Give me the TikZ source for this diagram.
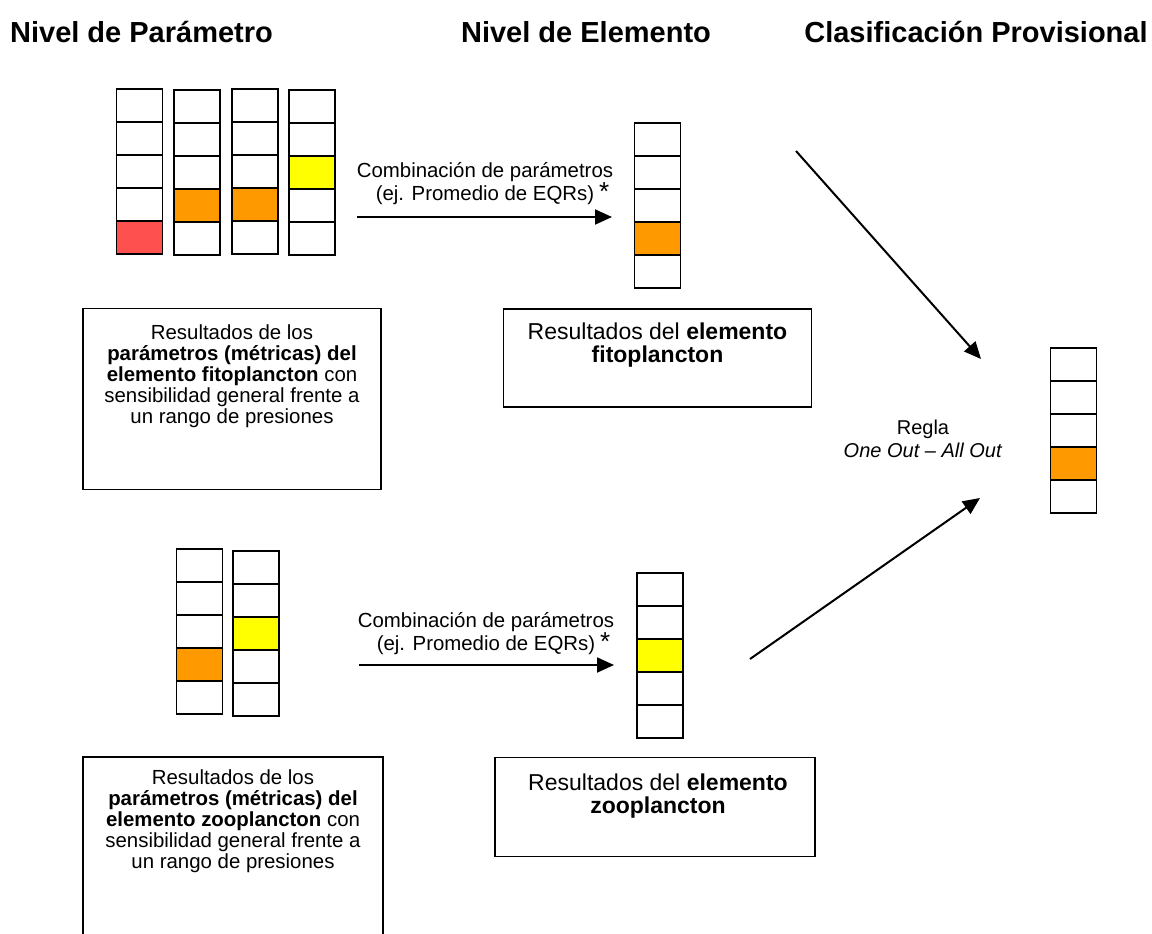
\documentclass[tikz,border=0pt]{standalone}
\usepackage{fontspec}
\setmainfont{Liberation Sans}
\usepackage{xcolor}
\usetikzlibrary{arrows.meta, positioning}

\definecolor{rojo}{HTML}{FF5050}
\definecolor{naranja}{HTML}{FF9900}
\definecolor{amarillo}{HTML}{FFFF00}

% column of five cells: name, x, top y, marked cell, colour
\newcommand{\columna}[5]{%
  \foreach \i in {1,...,5}{
    \ifnum\i=#4\relax \def\relleno{#5}\else \def\relleno{white}\fi
    \node[celda, fill=\relleno] (#1-\i) at (#2, #3+33*\i-16.5) {};
  }}
% asterisk after a line, without moving its centre
\newcommand{\nota}{\rlap{\hspace{5pt}\fontsize{26}{26}\selectfont *}}

\begin{document}
\begin{tikzpicture}[
    x=1pt, y=-1pt,
    every node/.style={font=\fontsize{20.4}{21}\selectfont},
    celda/.style={draw, line width=1.8pt, minimum width=46pt, minimum height=33pt, inner sep=0pt},
    caja/.style={draw, line width=1.8pt, inner sep=0pt},
    texto/.style={align=center, inner sep=0pt},
    titulo/.style={font=\fontsize{29}{32}\selectfont\bfseries, anchor=base},
    flecha/.style={line width=2pt, -{Triangle[length=17pt, width=15pt]}}
]
\clip (0,0) rectangle (1152,934);

% headings
\node[titulo] (tPar) at (141.5,42.4) {Nivel de Parámetro};
\node[titulo] (tEle) at (586,42.4) {Nivel de Elemento};
\node[titulo] (tCla) at (976,42.4) {Clasificación Provisional};

% fitoplancton
\columna{pa}{139.5}{89}{5}{rojo}
\columna{pb}{197}{90}{4}{naranja}
\columna{pc}{255}{89}{4}{naranja}
\columna{pd}{312}{90}{3}{amarillo}
\columna{ea}{657.5}{123}{4}{naranja}

\node[caja, minimum width=298pt, minimum height=181pt] (cajaPa) at (232,399) {};
\node[texto, below=17pt of cajaPa.north] (txtPa)
    {Resultados de los\\ \textbf{parámetros (métricas) del}\\
     \textbf{elemento fitoplancton} con\\ sensibilidad general frente a\\
     un rango de presiones};
\node[caja, minimum width=308pt, minimum height=98pt] (cajaEa) at (657.5,358) {};
\node[texto, font=\fontsize{23}{23}\selectfont, below=15pt of cajaEa.north] (txtEa)
    {Resultados del \textbf{elemento}\\ \textbf{fitoplancton}};

\node[texto, anchor=north, font=\fontsize{20.4}{22}\selectfont] (combA) at (485,162.5)
    {Combinación de parámetros\\ (ej. Promedio de EQRs)\nota};
\coordinate (a1i) at (357,217);
\coordinate (a1f) at (612,217);
\draw[flecha] (a1i) -- (a1f);

% zooplancton
\columna{za}{199.5}{549}{4}{naranja}
\columna{zb}{256}{551}{3}{amarillo}
\columna{eb}{660}{573}{3}{amarillo}

\node[caja, minimum width=300pt, minimum height=190pt] (cajaPb) at (233,852) {};
\node[texto, below=13pt of cajaPb.north] (txtPb)
    {Resultados de los\\ \textbf{parámetros (métricas) del}\\
     \textbf{elemento zooplancton} con\\ sensibilidad general frente a\\
     un rango de presiones};
\node[caja, minimum width=320pt, minimum height=99pt] (cajaEb) at (655,807) {};
\node[texto, font=\fontsize{23}{23}\selectfont, below=17pt of cajaEb.north, xshift=3pt] (txtEb)
    {Resultados del \textbf{elemento}\\ \textbf{zooplancton}};

\node[texto, anchor=north, font=\fontsize{20.4}{22}\selectfont] (combB) at (486,612.5)
    {Combinación de parámetros\\ (ej. Promedio de EQRs)\nota};
\coordinate (a2i) at (359,665);
\coordinate (a2f) at (614,665);
\draw[flecha] (a2i) -- (a2f);

% provisional classification
\columna{fin}{1073.5}{348}{4}{naranja}
\node[texto, anchor=north, font=\fontsize{20}{23}\selectfont] (regla) at (923,419.6)
    {Regla\\ \textit{One Out – All Out}};

\coordinate (d1i) at (796,151);
\coordinate (d1f) at (981,359);
\coordinate (d2i) at (750,659);
\coordinate (d2f) at (980,498);
\draw[flecha] (d1i) -- (d1f);
\draw[flecha] (d2i) -- (d2f);
\end{tikzpicture}
\end{document}
